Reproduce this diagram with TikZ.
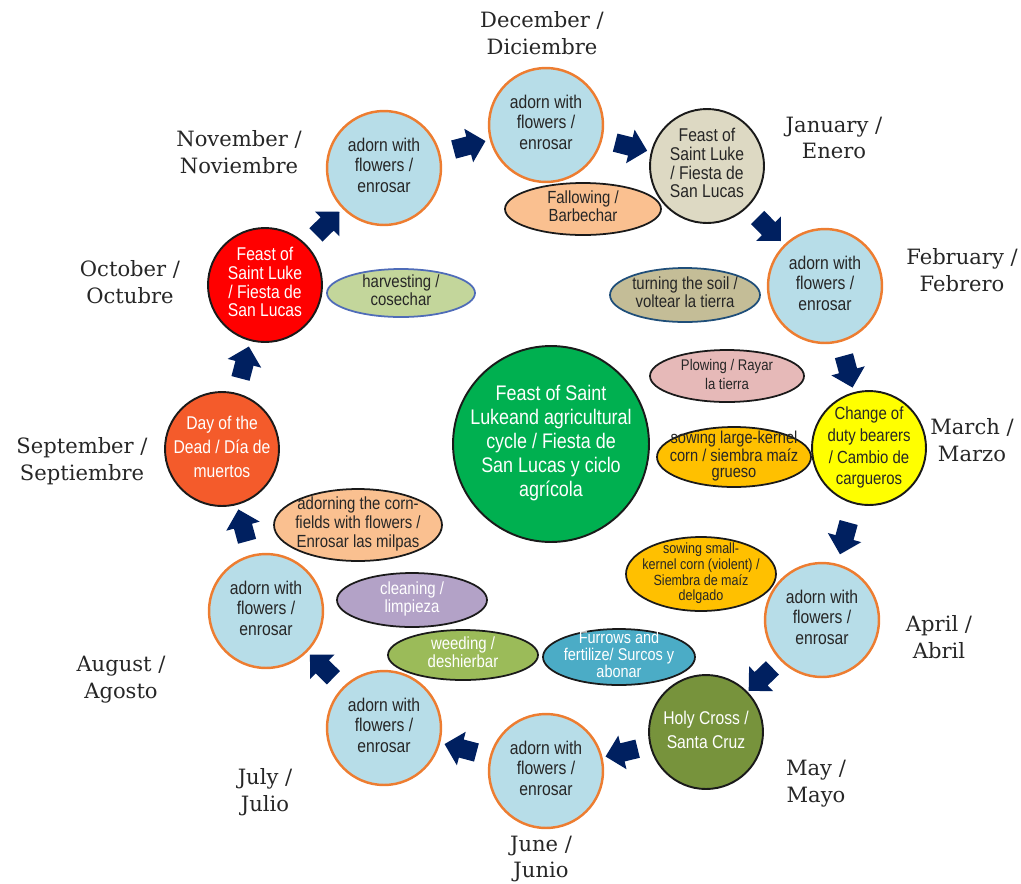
\documentclass[tikz,border=0pt]{standalone}
\usepackage{fontspec}
\usepackage{xcolor}
\usepackage{tikz}
\usetikzlibrary{shapes.geometric,shapes.arrows}
\newfontfamily\narrowsf[FakeStretch=0.85]{Liberation Sans}
\newfontfamily\monthfont{DejaVu Serif}
\definecolor{bleunuit}{HTML}{002060}
\definecolor{bleufleur}{HTML}{B7DDE8}
\definecolor{bordfleur}{HTML}{ED7D31}
\definecolor{bordnoir}{HTML}{1A1A1A}
\definecolor{texte}{HTML}{262626}
\definecolor{beige}{HTML}{DDD9C3}
\definecolor{jaune}{HTML}{FFFF00}
\definecolor{vertmai}{HTML}{77933C}
\definecolor{orangemort}{HTML}{F45B2B}
\definecolor{rouge}{HTML}{FF0000}
\definecolor{vertcentre}{HTML}{00B050}
\definecolor{peche}{HTML}{FAC090}
\definecolor{vertclair}{HTML}{C3D69B}
\definecolor{bordbleu}{HTML}{4F6CB8}
\definecolor{taupe}{HTML}{C4BD97}
\definecolor{bordpetrole}{HTML}{1F4E79}
\definecolor{rose}{HTML}{E6B9B8}
\definecolor{ambre}{HTML}{FFC000}
\definecolor{turquoise}{HTML}{4BACC6}
\definecolor{vertolive}{HTML}{9BBB59}
\definecolor{lilas}{HTML}{B3A2C7}
\newcommand{\ctext}[1]{\makebox[0pt]{\raisebox{-0.25em}[0pt][0pt]{\begin{tabular}{@{}c@{}}#1\end{tabular}}}}
\tikzset{
  rond/.style={circle, draw=bordnoir, fill=#1, minimum size=2.28cm, inner sep=0pt,
               line width=1.1pt, font=\fontsize{10.5}{11.9}\narrowsf},
  fleur/.style={rond=bleufleur, draw=bordfleur, line width=1.4pt, text=texte},
  ovale/.style={ellipse, draw=bordnoir, fill=#1, inner sep=0pt, line width=1pt,
                font=\fontsize{10}{10.5}\narrowsf},
  mois/.style={align=center, text=texte, font=\fontsize{12}{15.3}\monthfont},
  fleche/.style={single arrow, fill=bleunuit, inner xsep=0pt, inner ysep=0.18cm, minimum height=0.66cm,
                 minimum width=0pt, single arrow head extend=0.16cm, sloped, allow upside down},
}
\begin{document}
\begin{tikzpicture}[x=0.02cm, y=-0.02cm]
    \useasboundingbox (0,0) rectangle (1021,883);
    % the months round the wheel
    \node[fleur] (dec) at (546,125) {\ctext{adorn with\\flowers /\\enrosar}};
    \node[rond=beige, text=texte, font=\fontsize{10.5}{10.6}\narrowsf] (jan) at (707,166)
      {\ctext{Feast of\\Saint Luke\\/ Fiesta de\\San Lucas}};
    \node[fleur] (feb) at (825,286) {\ctext{adorn with\\flowers /\\enrosar}};
    \node[rond=jaune, text=texte, font=\fontsize{10}{12.3}\narrowsf] (mar) at (869,448)
      {\ctext{Change of\\duty bearers\\/ Cambio de\\cargueros}};
    \node[fleur] (apr) at (822,620) {\ctext{adorn with\\flowers /\\enrosar}};
    \node[rond=vertmai, text=white, font=\fontsize{10.5}{13.2}\narrowsf] (may) at (706,732)
      {\ctext{Holy Cross /\\Santa Cruz}};
    \node[fleur] (jun) at (546,771) {\ctext{adorn with\\flowers /\\enrosar}};
    \node[fleur] (jul) at (384,728) {\ctext{adorn with\\flowers /\\enrosar}};
    \node[fleur] (aug) at (266,611) {\ctext{adorn with\\flowers /\\enrosar}};
    \node[rond=orangemort, text=white, font=\fontsize{10.5}{13.5}\narrowsf] (sep) at (222,449)
      {\ctext{Day of the\\Dead / Día de\\muertos}};
    \node[rond=rouge, text=white, font=\fontsize{10.5}{10.4}\narrowsf] (oct) at (265,285)
      {\ctext{Feast of\\Saint Luke\\/ Fiesta de\\San Lucas}};
    \node[fleur] (nov) at (384,168) {\ctext{adorn with\\flowers /\\enrosar}};
    \node[rond=vertcentre, minimum size=3.92cm, text=white, font=\fontsize{12}{13.6}\narrowsf] (centre) at (551,444)
      {\ctext{Feast of Saint\\Lukeand agricultural\\cycle / Fiesta de\\San Lucas y ciclo\\agrícola}};
    % tasks
    \node[ovale=peche, minimum width=3.12cm, minimum height=1.04cm, text=texte] (fallow) at (583,209)
      {\ctext{Fallowing /\\Barbechar}};
    \node[ovale=vertclair, draw=bordbleu, minimum width=2.96cm, minimum height=0.96cm, text=texte] (harvest) at (401,293)
      {\ctext{harvesting /\\cosechar}};
    \node[ovale=taupe, draw=bordpetrole, minimum width=3cm, minimum height=1.08cm, text=texte] (turn) at (685,295)
      {\ctext{turning the soil /\\voltear la tierra}};
    \node[ovale=rose, minimum width=3.08cm, minimum height=1.04cm, text=texte,
          font=\fontsize{8.8}{10.8}\narrowsf] (plow) at (727,376) {\ctext{Plowing / Rayar\\la tierra}};
    \node[ovale=ambre, minimum width=3.08cm, minimum height=1.2cm, text=texte,
          font=\fontsize{9.8}{9.5}\narrowsf] (sowbig) at (734,457)
      {\ctext{sowing large-kernel\\corn / siembra maíz\\grueso}};
    \node[ovale=ambre, minimum width=3cm, minimum height=1.48cm, text=texte,
          font=\fontsize{8.4}{8.9}\narrowsf] (sowsmall) at (701,574)
      {\ctext{sowing small-\\kernel corn (violent) /\\Siembra de maíz\\delgado}};
    \node[ovale=turquoise, minimum width=3.04cm, minimum height=1.12cm, text=white,
          font=\fontsize{9.7}{9}\narrowsf] (furrow) at (619,657)
      {\ctext{Furrows and\\fertilize/ Surcos y\\abonar}};
    \node[ovale=vertolive, minimum width=3cm, minimum height=1cm, text=white] (weed) at (463,655)
      {\ctext{weeding /\\deshierbar}};
    \node[ovale=lilas, minimum width=3cm, minimum height=1.08cm, text=white] (clean) at (412,600)
      {\ctext{cleaning /\\limpieza}};
    \node[ovale=peche, minimum width=3.36cm, minimum height=1.44cm, text=texte,
          font=\fontsize{10}{10.7}\narrowsf] (milpa) at (358,525)
      {\ctext{adorning the corn-\\fields with flowers /\\Enrosar las milpas}};
    % month names
    \node[mois] (ldec) at (542,33) {December /\\Diciembre};
    \node[mois] (ljan) at (834,138) {January /\\Enero};
    \node[mois] (lfeb) at (962,270) {February /\\Febrero};
    \node[mois] (lmar) at (972,440) {March /\\Marzo};
    \node[mois] (lapr) at (939,637) {April /\\Abril};
    \node[mois] (lmay) at (816,784) {May /\\Mayo};
    \node[mois] (ljun) at (541,859) {June /\\Junio};
    \node[mois] (ljul) at (265,792) {July /\\Julio};
    \node[mois] (laug) at (121,680) {August /\\Agosto};
    \node[mois] (lsep) at (82,461) {September /\\Septiembre};
    \node[mois] (loct) at (130,282) {October /\\Octubre};
    \node[mois] (lnov) at (239,152) {November /\\Noviembre};
    % block arrows between the months
    \path (nov) -- node[fleche] (f1) {} (dec); \path (dec) -- node[fleche] (f2) {} (jan);
    \path (jan) -- node[fleche] (f3) {} (feb); \path (feb) -- node[fleche] (f4) {} (mar);
    \path (mar) -- node[fleche] (f5) {} (apr); \path (apr) -- node[fleche] (f6) {} (may);
    \path (may) -- node[fleche] (f7) {} (jun); \path (jun) -- node[fleche] (f8) {} (jul);
    \path (jul) -- node[fleche] (f9) {} (aug); \path (aug) -- node[fleche] (f10) {} (sep);
    \path (sep) -- node[fleche] (f11) {} (oct); \path (oct) -- node[fleche] (f12) {} (nov);
  \end{tikzpicture}
\end{document}
